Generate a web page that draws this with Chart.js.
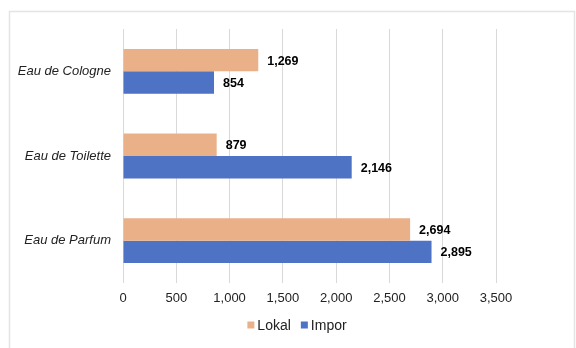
<!DOCTYPE html>
<html>
<head>
<meta charset="utf-8">
<script src="https://cdn.jsdelivr.net/npm/chart.js@4/dist/chart.umd.min.js"></script>
<style>
html,body{margin:0;padding:0;background:#fff;}
#wrap{position:relative;width:576px;height:348px;}
</style>
</head>
<body>
<div id="wrap"><canvas id="c" width="576" height="348"></canvas></div>
<script>
const categories = ["Eau de Cologne", "Eau de Toilette", "Eau de Parfum"];
const lokalValues = [1269, 879, 2694];
const imporValues = [854, 2146, 2895];
const seriesNames = ["Lokal", "Impor"];
const xTicks = [0, 500, 1000, 1500, 2000, 2500, 3000, 3500];

const FONT = '"Liberation Sans", Arial, sans-serif';

const frame = {
  id: 'frame',
  beforeDraw(chart) {
    const ctx = chart.ctx;
    ctx.save();
    ctx.fillStyle = '#ffffff';
    ctx.fillRect(0, 0, chart.width, chart.height);
    ctx.strokeStyle = '#e4e4e4';
    ctx.lineWidth = 1.5;
    ctx.strokeRect(9.5, 11.5, 565, 345);
    ctx.restore();
  }
};

const valueLabels = {
  id: 'valueLabels',
  afterDatasetsDraw(chart) {
    const ctx = chart.ctx;
    ctx.save();
    ctx.font = 'bold 12.5px ' + FONT;
    ctx.fillStyle = '#000';
    ctx.textAlign = 'left';
    ctx.textBaseline = 'middle';
    chart.data.datasets.forEach((ds, i) => {
      const meta = chart.getDatasetMeta(i);
      meta.data.forEach((bar, j) => {
        ctx.fillText(ds.data[j].toLocaleString('en-US'), bar.x + 9, bar.y + 1);
      });
    });
    ctx.restore();
  }
};

const customLegend = {
  id: 'customLegend',
  afterDraw(chart) {
    const ctx = chart.ctx;
    ctx.save();
    ctx.font = '14px ' + FONT;
    ctx.textBaseline = 'middle';
    ctx.textAlign = 'left';
    const box = 7, gap = 3, itemGap = 10;
    const items = chart.data.datasets.map(ds => ({ text: ds.label, color: ds.backgroundColor, w: ctx.measureText(ds.label).width }));
    let total = 0;
    items.forEach((it, i) => { total += box + gap + it.w + (i < items.length - 1 ? itemGap : 0); });
    let x = chart.width / 2 + 9 - total / 2;
    const y = 325;
    items.forEach(it => {
      ctx.fillStyle = it.color;
      ctx.fillRect(x, y - box / 2, box, box);
      x += box + gap;
      ctx.fillStyle = '#222';
      ctx.fillText(it.text, x, y + 1);
      x += it.w + itemGap;
    });
    ctx.restore();
  }
};

new Chart(document.getElementById('c'), {
  type: 'bar',
  data: {
    labels: categories,
    datasets: [
      { label: seriesNames[0], data: lokalValues, backgroundColor: '#EAB188' },
      { label: seriesNames[1], data: imporValues, backgroundColor: '#4E72C4' }
    ]
  },
  options: {
    indexAxis: 'y',
    responsive: false,
    animation: false,
    devicePixelRatio: 1,
    categoryPercentage: 0.53,
    barPercentage: 1,
    layout: { padding: { left: 0, right: 80, top: 29, bottom: 42 } },
    scales: {
      x: {
        min: 0, max: 3500,
        afterBuildTicks(axis) { axis.ticks = xTicks.map(v => ({ value: v })); },
        afterFit(axis) { axis.height = 23; },
        grid: { color: '#d9d9d9', drawTicks: false, lineWidth: 1 },
        border: { display: false },
        ticks: {
          padding: 8,
          color: '#222',
          font: { family: FONT, size: 13 },
          callback: v => v.toLocaleString('en-US')
        }
      },
      y: {
        grid: { display: false, drawTicks: false },
        border: { display: false },
        afterFit(axis) { axis.width = 123; },
        ticks: {
          padding: 12,
          color: '#222',
          font: { family: FONT, size: 13, style: 'italic' }
        }
      }
    },
    plugins: {
      legend: { display: false },
      tooltip: { enabled: false }
    }
  },
  plugins: [frame, valueLabels, customLegend]
});
</script>
</body>
</html>
